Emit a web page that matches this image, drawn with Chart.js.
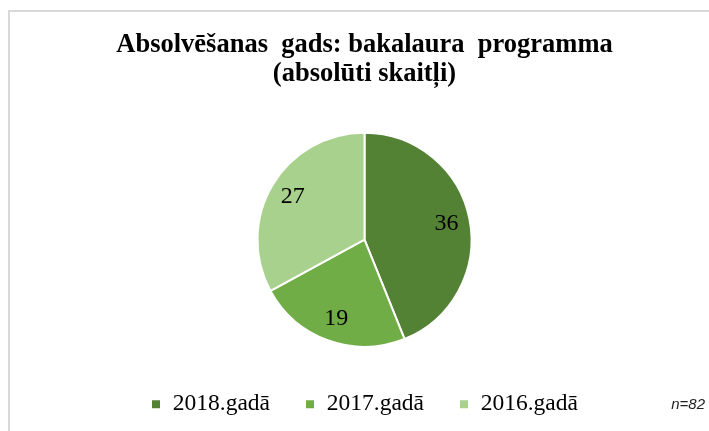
<!DOCTYPE html>
<html>
<head>
<meta charset="utf-8">
<script src="https://cdn.jsdelivr.net/npm/chart.js@4/dist/chart.umd.min.js"></script>
<style>
  html, body { margin: 0; padding: 0; background: #fff; }
  #wrap { width: 709px; height: 431px; }
</style>
</head>
<body>
<div id="wrap"><canvas id="pieChart" width="709" height="431"></canvas></div>
<script>
const categories = ["2018.gadā", "2017.gadā", "2016.gadā"];
const counts = [36, 19, 27];
const sliceColors = ["#548235", "#70ad47", "#a9d18e"];
const titleLines = ["Absolvēšanas  gads: bakalaura  programma", "(absolūti skaitļi)"];
const noteText = "n=82";

// pelēkais rāmis augšā un kreisajā pusē
const framePlugin = {
    id: "frame",
    beforeDraw(chart) {
        const ctx = chart.ctx;
        ctx.save();
        ctx.fillStyle = "#d9d9d9";
        ctx.fillRect(8, 10, chart.width - 8, 2);
        ctx.fillRect(8, 10, 2, chart.height - 10);
        ctx.restore();
    },
};

// skaitļi sektoros + n=82 piezīme
const labelPlugin = {
    id: "sliceLabels",
    afterDatasetsDraw(chart) {
        const ctx = chart.ctx;
        const meta = chart.getDatasetMeta(0);
        ctx.save();
        ctx.font = "24px 'Liberation Serif'";
        ctx.fillStyle = "#000";
        ctx.textAlign = "center";
        ctx.textBaseline = "middle";
        meta.data.forEach((arc, i) => {
            const p = arc.getProps(["x", "y", "startAngle", "endAngle", "outerRadius"], true);
            const mid = (p.startAngle + p.endAngle) / 2;
            const r = p.outerRadius * 0.78;
            ctx.fillText(String(counts[i]), p.x + Math.cos(mid) * r, p.y + Math.sin(mid) * r);
        });
        ctx.font = "italic 15px 'Liberation Sans'";
        ctx.fillStyle = "#222";
        ctx.textAlign = "right";
        ctx.fillText(noteText, 705, 405);
        ctx.restore();
    },
};

new Chart(document.getElementById("pieChart"), {
    type: "pie",
    data: {
        labels: categories,
        datasets: [
            {
                data: counts,
                backgroundColor: sliceColors,
                borderColor: "#ffffff",
                borderWidth: 2,
                radius: 107,
            },
        ],
    },
    options: {
        responsive: false,
        animation: false,
        layout: {
            padding: { left: 20, right: 0, top: 0, bottom: 5 },
        },
        plugins: {
            title: {
                display: true,
                text: titleLines,
                color: "#000",
                font: { family: "Liberation Serif", size: 26.5, weight: "bold", lineHeight: 1.094 },
                padding: { top: 31, bottom: 33 },
            },
            legend: {
                position: "bottom",
                labels: {
                    color: "#000",
                    boxWidth: 10,
                    boxHeight: 10,
                    padding: 35,
                    font: { family: "Liberation Serif", size: 23.5 },
                },
            },
            tooltip: { enabled: false },
        },
    },
    plugins: [framePlugin, labelPlugin],
});
</script>
</body>
</html>
